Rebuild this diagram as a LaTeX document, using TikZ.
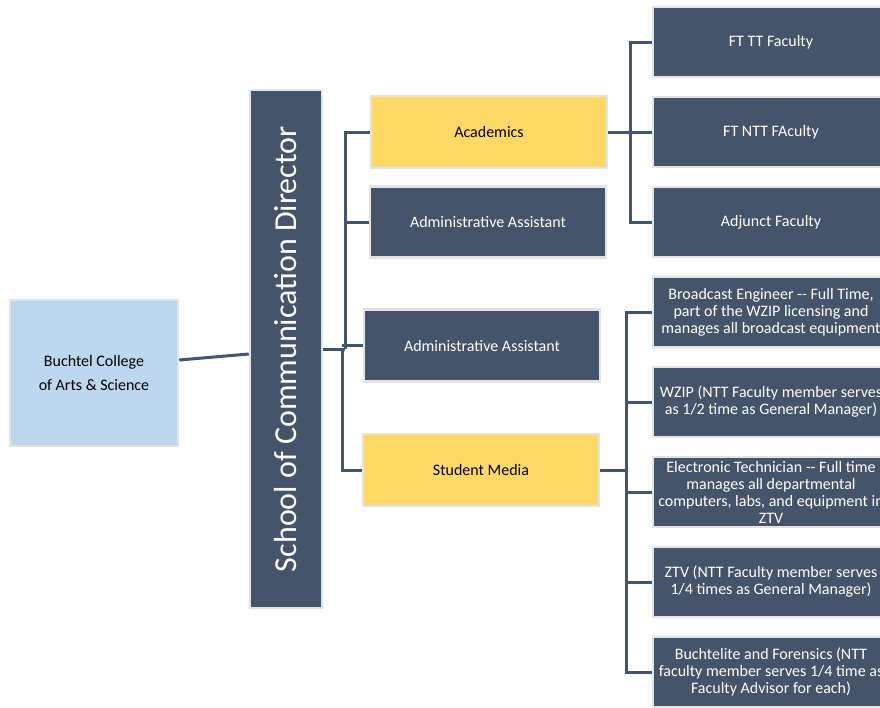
\documentclass[tikz,border=0pt]{standalone}
\usepackage{fontspec}
\setmainfont{Carlito}
\usetikzlibrary{calc}
\definecolor{dark}{HTML}{44546A}
\definecolor{gold}{HTML}{FFD966}
\definecolor{lblue}{HTML}{BDD7EE}
\definecolor{edge}{HTML}{E4E4E4}
\begin{document}
\begin{tikzpicture}[x=1pt,y=-1pt,
 box/.style={draw=edge,line width=2.5pt,inner sep=0pt,align=center,font=\fontsize{16}{17}\selectfont},
 darkbox/.style={box,fill=dark,text=white},
 yelbox/.style={box,fill=gold,text=black},
 conn/.style={draw=dark,line width=3pt}]
\useasboundingbox (0,0) rectangle (880,707);
\fill[white] (0,0) rectangle (880,707);
\clip (0,0) rectangle (880,707);

% nodes
\node[box,fill=lblue,text=black,minimum width=168pt,minimum height=146pt,font=\fontsize{16}{24}\selectfont] (buch) at (94,373) {Buchtel College\\of Arts \& Science};
\node[box,fill=dark,minimum width=72pt,minimum height=518pt] (dir) at (286,349) {};
\node[rotate=90,text=white,font=\fontsize{32}{36}\selectfont,inner sep=0pt] (dirtext) at (dir.center) {School of Communication Director};

\node[yelbox,minimum width=236pt,minimum height=72pt] (acad) at (489,132) {Academics};
\node[darkbox,minimum width=236pt,minimum height=71pt] (adm1) at (488,222) {Administrative Assistant};
\node[darkbox,minimum width=236pt,minimum height=72pt] (adm2) at (482,345.5) {Administrative Assistant};
\node[yelbox,minimum width=236pt,minimum height=72pt] (sm) at (481,470) {Student Media};

\node[darkbox,minimum width=236pt,minimum height=70pt] (fttt) at (771,42) {FT TT Faculty};
\node[darkbox,minimum width=236pt,minimum height=70pt] (ftntt) at (771,132) {FT NTT FAculty};
\node[darkbox,minimum width=236pt,minimum height=70pt] (adj) at (771,222) {Adjunct Faculty};

\node[darkbox,minimum width=236pt,minimum height=70pt] (be) at (771,312) {Broadcast Engineer -{}- Full Time,\\part of the WZIP licensing and\\manages all broadcast equipment};
\node[darkbox,minimum width=236pt,minimum height=70pt] (wzip) at (771,402) {WZIP (NTT Faculty member serves\\as 1/2 time as General Manager)};
\node[darkbox,minimum width=236pt,minimum height=70pt] (et) at (771,492) {Electronic Technician -{}- Full time\\manages all departmental\\computers, labs, and equipment in\\ZTV};
\node[darkbox,minimum width=236pt,minimum height=70pt] (ztv) at (771,582) {ZTV (NTT Faculty member serves\\1/4 times as General Manager)};
\node[darkbox,minimum width=236pt,minimum height=70pt] (bf) at (771,672) {Buchtelite and Forensics (NTT\\faculty member serves 1/4 time as\\Faculty Advisor for each)};

% junctions
\coordinate (busA) at (345,349);
\coordinate (busB) at (342,349);
\coordinate (busC) at (630,132);
\coordinate (busD) at (626,470);

% connectors
\draw[conn] ([yshift=13pt]buch.east) -- ([yshift=-5pt]dir.west);
\draw[conn] (dir.east) -- (busA);
\draw[conn] (acad.west) -| (busA);
\draw[conn] (adm1.west) -- (adm1.west -| busA);
\draw[conn] (sm.west) -| (busB);
\draw[conn] (adm2.west) -- (adm2.west -| busB);

\draw[conn] (acad.east) -- (busC);
\draw[conn] (fttt.west) -| (busC);
\draw[conn] (adj.west) -| (busC);
\draw[conn] (ftntt.west) -- (busC);

\draw[conn] (sm.east) -- (busD);
\draw[conn] (be.west) -| (busD);
\draw[conn] (bf.west) -| (busD);
\draw[conn] (wzip.west) -- (wzip.west -| busD);
\draw[conn] (et.west) -- (et.west -| busD);
\draw[conn] (ztv.west) -- (ztv.west -| busD);
\end{tikzpicture}
\end{document}
